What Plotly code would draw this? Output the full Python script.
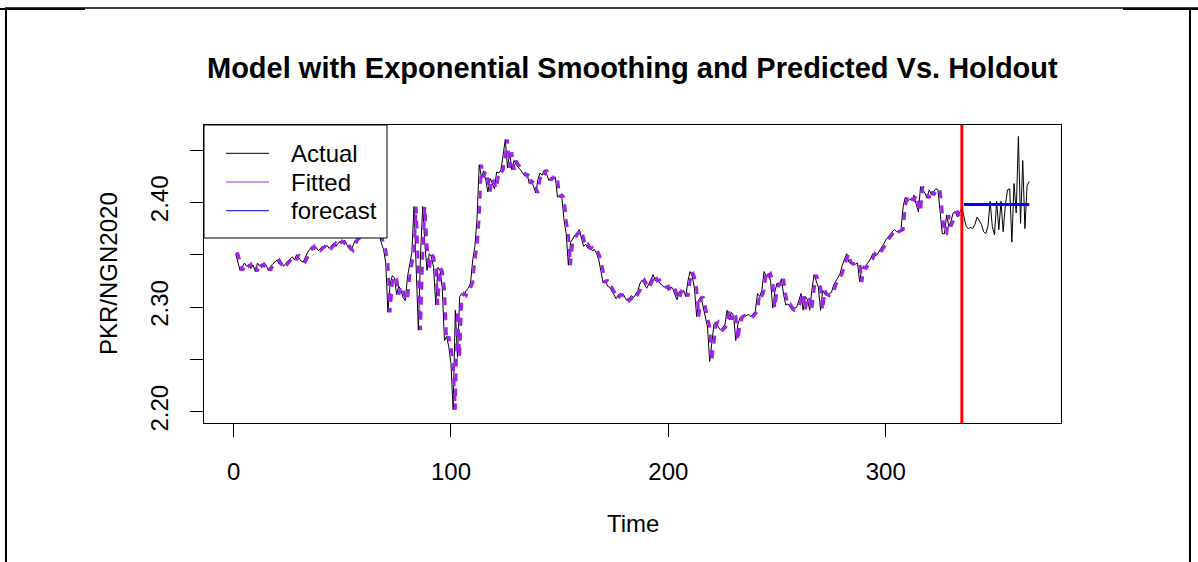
import plotly.graph_objects as go

# ---------------- data ----------------
actual = [
    2.351, 2.343, 2.335, 2.338, 2.342, 2.339, 2.341, 2.337, 2.340, 2.334,
    2.342, 2.339, 2.341, 2.338, 2.340, 2.335, 2.339, 2.341, 2.343, 2.345,
    2.341, 2.343, 2.339, 2.342, 2.344, 2.346, 2.348, 2.345, 2.350, 2.347,
    2.344, 2.343, 2.348, 2.352, 2.355, 2.358, 2.355, 2.357, 2.354, 2.356,
    2.358, 2.357, 2.359, 2.356, 2.359, 2.361, 2.358, 2.360, 2.363, 2.361,
    2.364, 2.360, 2.356, 2.354, 2.360, 2.364, 2.366, 2.368, 2.372, 2.370,
    2.374, 2.371, 2.375, 2.373, 2.376, 2.372, 2.369, 2.361, 2.355, 2.342,
    2.295, 2.322, 2.330, 2.328, 2.312, 2.320, 2.316, 2.309, 2.306, 2.329,
    2.342, 2.352, 2.396, 2.340, 2.278, 2.350, 2.396, 2.360, 2.335, 2.351,
    2.348, 2.338, 2.302, 2.338, 2.335, 2.318, 2.268, 2.272, 2.262, 2.246,
    2.202, 2.297, 2.252, 2.310, 2.313, 2.311, 2.316, 2.318, 2.323, 2.345,
    2.358, 2.385, 2.436, 2.424, 2.430, 2.421, 2.410, 2.423, 2.418, 2.413,
    2.429, 2.428, 2.431, 2.447, 2.460, 2.433, 2.448, 2.431, 2.440, 2.436,
    2.434, 2.431, 2.428, 2.425, 2.428, 2.418, 2.421, 2.415, 2.409, 2.422,
    2.428, 2.426, 2.431, 2.427, 2.421, 2.424, 2.422, 2.424, 2.405, 2.407,
    2.405, 2.383, 2.370, 2.340, 2.362, 2.365, 2.369, 2.371, 2.374, 2.366,
    2.358, 2.360, 2.356, 2.357, 2.354, 2.355, 2.351, 2.345, 2.335, 2.323,
    2.326, 2.320, 2.319, 2.315, 2.311, 2.308, 2.312, 2.311, 2.313, 2.310,
    2.306, 2.308, 2.311, 2.309, 2.313, 2.316, 2.323, 2.326, 2.322, 2.318,
    2.322, 2.327, 2.331, 2.325, 2.326, 2.323, 2.321, 2.319, 2.320, 2.316,
    2.319, 2.318, 2.312, 2.307, 2.315, 2.313, 2.316, 2.310, 2.325, 2.334,
    2.329, 2.318, 2.291, 2.307, 2.310, 2.300, 2.290, 2.281, 2.248, 2.265,
    2.284, 2.286, 2.281, 2.278, 2.280, 2.283, 2.297, 2.288, 2.295, 2.292,
    2.268, 2.284, 2.290, 2.292, 2.291, 2.292, 2.293, 2.291, 2.294, 2.296,
    2.313, 2.310, 2.316, 2.334, 2.330, 2.332, 2.325, 2.299, 2.315, 2.323,
    2.320, 2.327, 2.312, 2.302, 2.303, 2.300, 2.297, 2.299, 2.300, 2.306,
    2.313, 2.297, 2.310, 2.307, 2.297, 2.316, 2.331, 2.325, 2.319, 2.297,
    2.316, 2.312, 2.311, 2.313, 2.314, 2.321, 2.325, 2.329, 2.332, 2.340,
    2.345, 2.351, 2.343, 2.341, 2.342, 2.341, 2.342, 2.324, 2.338, 2.337,
    2.340, 2.343, 2.346, 2.351, 2.349, 2.350, 2.353, 2.356, 2.360, 2.364,
    2.367, 2.370, 2.372, 2.374, 2.372, 2.373, 2.374, 2.396, 2.405, 2.401,
    2.403, 2.402, 2.407, 2.398, 2.391, 2.415, 2.412, 2.409, 2.404, 2.412,
    2.407, 2.410, 2.413, 2.412, 2.393, 2.370, 2.370, 2.388, 2.377, 2.382,
    2.390, 2.391, 2.386, 2.390, 2.395,
    # holdout
    2.386, 2.377, 2.375, 2.376, 2.375, 2.379, 2.386, 2.383, 2.379, 2.372,
    2.370, 2.377, 2.401, 2.377, 2.369, 2.401, 2.374, 2.401, 2.372, 2.397,
    2.412, 2.413, 2.362, 2.418, 2.390, 2.463, 2.380, 2.440, 2.375, 2.416, 2.420,
]

fitted = [
    2.351, 2.351, 2.343, 2.335, 2.338, 2.342, 2.339, 2.341, 2.337, 2.340,
    2.334, 2.342, 2.339, 2.341, 2.338, 2.340, 2.335, 2.339, 2.341, 2.343,
    2.345, 2.341, 2.343, 2.339, 2.342, 2.344, 2.346, 2.348, 2.345, 2.350,
    2.347, 2.344, 2.343, 2.348, 2.352, 2.355, 2.358, 2.355, 2.357, 2.354,
    2.356, 2.358, 2.357, 2.359, 2.356, 2.359, 2.361, 2.358, 2.360, 2.363,
    2.361, 2.364, 2.360, 2.356, 2.354, 2.360, 2.364, 2.366, 2.368, 2.372,
    2.370, 2.374, 2.371, 2.375, 2.373, 2.376, 2.372, 2.369, 2.361, 2.355,
    2.342, 2.295, 2.322, 2.330, 2.328, 2.312, 2.320, 2.316, 2.309, 2.306,
    2.329, 2.342, 2.352, 2.396, 2.340, 2.278, 2.350, 2.396, 2.360, 2.335,
    2.351, 2.348, 2.338, 2.302, 2.338, 2.335, 2.318, 2.268, 2.272, 2.262,
    2.246, 2.202, 2.297, 2.252, 2.310, 2.313, 2.311, 2.316, 2.318, 2.323,
    2.345, 2.358, 2.385, 2.436, 2.424, 2.430, 2.421, 2.410, 2.423, 2.418,
    2.413, 2.429, 2.428, 2.431, 2.447, 2.460, 2.433, 2.448, 2.431, 2.440,
    2.436, 2.434, 2.431, 2.428, 2.425, 2.428, 2.418, 2.421, 2.415, 2.409,
    2.422, 2.428, 2.426, 2.431, 2.427, 2.421, 2.424, 2.422, 2.424, 2.405,
    2.407, 2.405, 2.383, 2.370, 2.340, 2.362, 2.365, 2.369, 2.371, 2.374,
    2.366, 2.358, 2.360, 2.356, 2.357, 2.354, 2.355, 2.351, 2.345, 2.335,
    2.323, 2.326, 2.320, 2.319, 2.315, 2.311, 2.308, 2.312, 2.311, 2.313,
    2.310, 2.306, 2.308, 2.311, 2.309, 2.313, 2.316, 2.323, 2.326, 2.322,
    2.318, 2.322, 2.327, 2.331, 2.325, 2.326, 2.323, 2.321, 2.319, 2.320,
    2.316, 2.319, 2.318, 2.312, 2.307, 2.315, 2.313, 2.316, 2.310, 2.325,
    2.334, 2.329, 2.318, 2.291, 2.307, 2.310, 2.300, 2.290, 2.281, 2.248,
    2.265, 2.284, 2.286, 2.281, 2.278, 2.280, 2.283, 2.297, 2.288, 2.295,
    2.292, 2.268, 2.284, 2.290, 2.292, 2.291, 2.292, 2.293, 2.291, 2.294,
    2.296, 2.313, 2.310, 2.316, 2.334, 2.330, 2.332, 2.325, 2.299, 2.315,
    2.323, 2.320, 2.327, 2.312, 2.302, 2.303, 2.300, 2.297, 2.299, 2.300,
    2.306, 2.313, 2.297, 2.310, 2.307, 2.297, 2.316, 2.331, 2.325, 2.319,
    2.297, 2.316, 2.312, 2.311, 2.313, 2.314, 2.321, 2.325, 2.329, 2.332,
    2.340, 2.345, 2.351, 2.343, 2.341, 2.342, 2.341, 2.342, 2.324, 2.338,
    2.337, 2.340, 2.343, 2.346, 2.351, 2.349, 2.350, 2.353, 2.356, 2.360,
    2.364, 2.367, 2.370, 2.372, 2.374, 2.372, 2.373, 2.374, 2.396, 2.405,
    2.401, 2.403, 2.402, 2.407, 2.398, 2.391, 2.415, 2.412, 2.409, 2.404,
    2.412, 2.407, 2.410, 2.413, 2.412, 2.393, 2.370, 2.370, 2.388, 2.377,
    2.382, 2.390, 2.391, 2.386, 2.390,
]

forecast = [
    2.398, 2.398, 2.398, 2.398, 2.398, 2.398, 2.398, 2.398, 2.398, 2.398,
    2.398, 2.398, 2.398, 2.398, 2.398, 2.398, 2.398, 2.398, 2.398, 2.398,
    2.398, 2.398, 2.398, 2.398, 2.398, 2.398, 2.398, 2.398, 2.398, 2.398, 2.398,
]

holdout_start = 335
time_actual = list(range(1, len(actual) + 1))
time_fitted = list(range(1, len(fitted) + 1))
time_forecast = list(range(holdout_start + 1, holdout_start + 1 + len(forecast)))

x_ticks = [0, 100, 200, 300]
y_ticks = [2.20, 2.25, 2.30, 2.35, 2.40, 2.45]
y_tick_labels = ["2.20", "", "2.30", "", "2.40", ""]
legend_labels = ["Actual", "Fitted", "forecast"]
legend_colors = ["black", "#A020F0", "blue"]

# ---------------- layout helpers ----------------
W_FIG, H_FIG = 1198, 562
L, R, T, B = 204, 1061, 125, 423
PW, PH = R - L, B - T


def px(x):
    return (x - L) / PW


def py(y):
    return (B - y) / PH


FONT = "Liberation Sans, Arial, Helvetica, sans-serif"

fig = go.Figure()
fig.add_trace(go.Scatter(x=time_actual, y=actual, mode="lines",
                         line=dict(color="black", width=1), name="Actual",
                         showlegend=False))
fig.add_trace(go.Scatter(x=time_fitted, y=fitted, mode="lines",
                         line=dict(color="#A020F0", width=3, dash="8px,7px"),
                         name="Fitted", showlegend=False))
fig.add_trace(go.Scatter(x=time_forecast, y=forecast, mode="lines",
                         line=dict(color="blue", width=3), name="forecast",
                         showlegend=False))

shapes = []
# holdout boundary
shapes.append(dict(type="line", xref="x", yref="paper", x0=holdout_start,
                   x1=holdout_start, y0=0, y1=1,
                   line=dict(color="red", width=3), layer="above"))
# legend box
shapes.append(dict(type="rect", xref="paper", yref="paper",
                   x0=px(204), x1=px(387), y0=py(238), y1=py(125),
                   fillcolor="white", line=dict(color="black", width=1),
                   layer="above"))
annotations = []
row_y = [153.3, 182.0, 210.7]
for lab, col, yy in zip(legend_labels, legend_colors, row_y):
    shapes.append(dict(type="line", xref="paper", yref="paper",
                       x0=px(226), x1=px(269), y0=py(yy), y1=py(yy),
                       line=dict(color=col, width=1), layer="above"))
    annotations.append(dict(text=lab, xref="paper", yref="paper",
                            x=px(289), y=py(yy), xanchor="left",
                            yanchor="middle", showarrow=False,
                            font=dict(family=FONT, size=24, color="black")))

# outer document frame
frame = dict(color="black", width=2)
shapes += [
    dict(type="line", xref="paper", yref="paper", x0=px(5), x1=px(1198),
         y0=py(8), y1=py(8), line=dict(color="black", width=1.5)),
    dict(type="line", xref="paper", yref="paper", x0=px(0), x1=px(85),
         y0=py(9), y1=py(9), line=frame),
    dict(type="line", xref="paper", yref="paper", x0=px(1123), x1=px(1198),
         y0=py(9), y1=py(9), line=frame),
    dict(type="line", xref="paper", yref="paper", x0=px(6), x1=px(6),
         y0=py(8), y1=py(562), line=frame),
    dict(type="line", xref="paper", yref="paper", x0=px(1190), x1=px(1190),
         y0=py(8), y1=py(562), line=frame),
]

# titles
annotations += [
    dict(text="<b>Model with Exponential Smoothing and Predicted Vs. Holdout</b>",
         xref="paper", yref="paper", x=px(632.5), y=py(68), xanchor="center",
         yanchor="middle", showarrow=False,
         font=dict(family=FONT, size=29, color="black")),
    dict(text="Time", xref="paper", yref="paper", x=px(632.5), y=py(523),
         xanchor="center", yanchor="middle", showarrow=False,
         font=dict(family=FONT, size=24, color="black")),
    dict(text="PKR/NGN2020", xref="paper", yref="paper", x=px(108), y=py(274),
         xanchor="center", yanchor="middle", showarrow=False, textangle=-90,
         font=dict(family=FONT, size=24, color="black")),
]

fig.update_layout(
    width=W_FIG, height=H_FIG,
    margin=dict(l=L, r=W_FIG - R, t=T, b=H_FIG - B, pad=0),
    paper_bgcolor="white", plot_bgcolor="white",
    showlegend=False,
    shapes=shapes, annotations=annotations,
    font=dict(family=FONT, size=24, color="black"),
    xaxis=dict(range=[-13.6, 380.6], tickvals=x_ticks,
               ticktext=[str(v) for v in x_ticks],
               ticks="outside", ticklen=13, tickwidth=1, tickcolor="black",
               showline=True, mirror=True, linecolor="black", linewidth=1,
               showgrid=False, zeroline=False, ticklabelstandoff=14,
               tickfont=dict(family=FONT, size=24, color="black")),
    yaxis=dict(range=[2.1893, 2.4739], tickvals=y_ticks, ticktext=y_tick_labels,
               tickangle=-90,
               ticks="outside", ticklen=13, tickwidth=1, tickcolor="black",
               showline=True, mirror=True, linecolor="black", linewidth=1,
               showgrid=False, zeroline=False, ticklabelstandoff=12,
               tickfont=dict(family=FONT, size=24, color="black")),
)

fig.write_html("out.html")
